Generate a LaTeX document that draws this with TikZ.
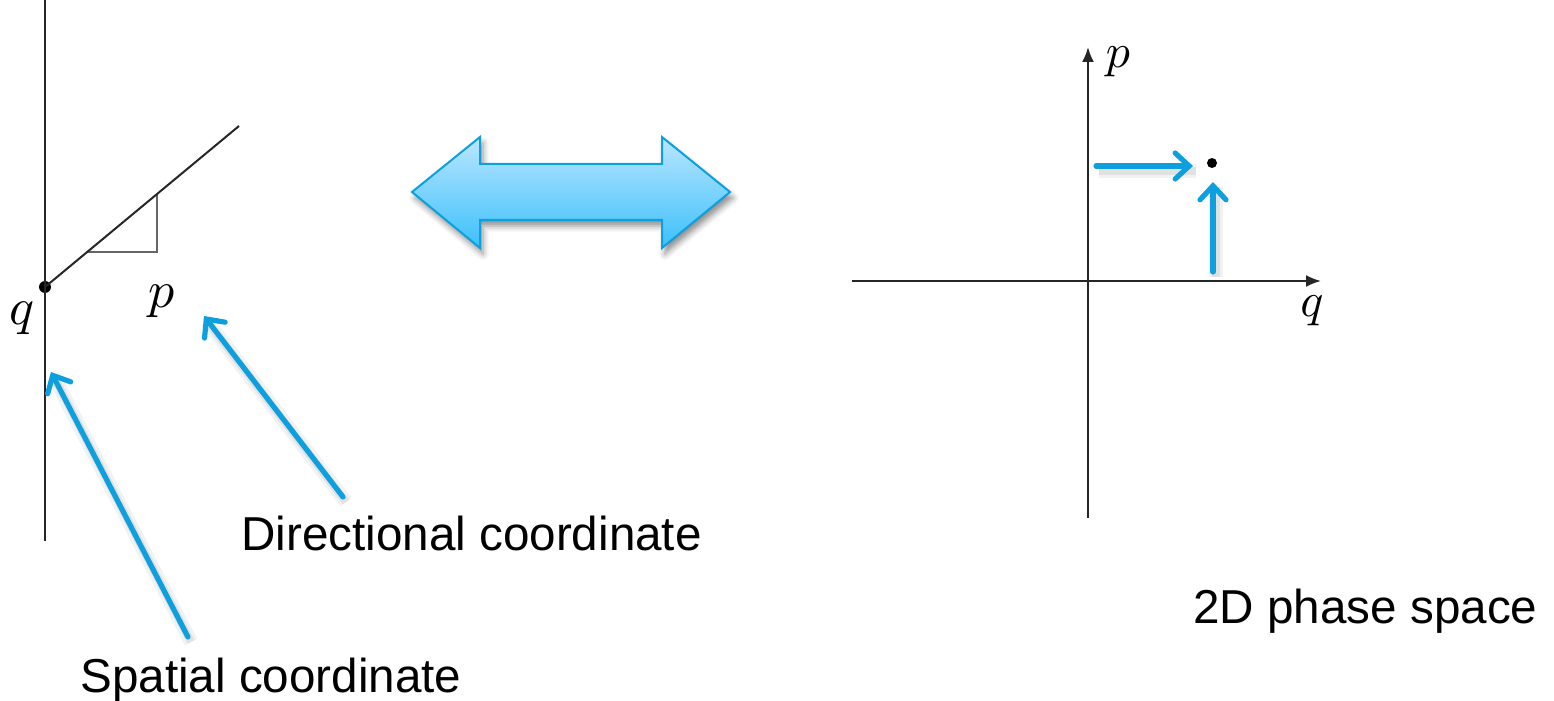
\documentclass[tikz,border=0pt]{standalone}
\usepackage{fontspec}
\setmainfont{Liberation Sans}
\usetikzlibrary{arrows.meta,shadows.blur}
\definecolor{cblue}{RGB}{14,160,222}
\definecolor{atop}{RGB}{186,230,255}
\definecolor{abot}{RGB}{60,192,250}
\definecolor{aedge}{RGB}{12,160,222}
\tikzset{
  axisline/.style={black!85, line width=1pt},
  axisarrow/.style={axisline, -{Latex[length=7.5pt,width=6pt]}},
  tri/.style={black!60, line width=1.3pt},
  dotnode/.style={circle, fill=black, inner sep=0pt, minimum size=#1},
  bluearrow/.style={draw=cblue, line width=2.6pt, line cap=round,
    -{Straight Barb[length=7pt,width=13pt,line cap=round]},
    preaction={draw=black, draw opacity=0.05, line width=7pt, -,
      transform canvas={shift={(1.5pt,-2.5pt)}}},
    preaction={draw=black, draw opacity=0.07, line width=4pt, -,
      transform canvas={shift={(1.5pt,-2.5pt)}}}},
  lbl/.style={font=\fontsize{23.8}{28}\selectfont, inner sep=0pt},
  mlbl/.style={inner sep=0pt, scale=#1},
}
\begin{document}
\begin{tikzpicture}[x=0.5pt,y=-0.5pt]
\useasboundingbox (0,0) rectangle (1554,701);
% ---------- left figure ----------
\coordinate (vtop) at (45,0);
\coordinate (vbot) at (45,541);
\node[dotnode=6pt] (qpt) at (45,287) {};
\coordinate (dend) at (239,126);
\coordinate (t1) at (87,252);
\coordinate (t2) at (157,252);
\coordinate (t3) at (157,194);
\draw[axisline] (vtop) -- (vbot);
\draw[tri] (t1) -- (t2) -- (t3);
\draw[axisline] (qpt.center) -- (dend);
\node[mlbl=2.6] (qlab) at (22,318) {$q$};
\node[mlbl=2.6] (plab) at (162,301) {$p$};
% labels and blue pointers
\node[lbl, anchor=base west] (dirtxt) at (241,550) {Directional coordinate};
\node[lbl, anchor=base west] (spatxt) at (80,692) {Spatial coordinate};
\coordinate (dA) at (343,497);
\coordinate (dB) at (204,316);
\coordinate (sA) at (188,637);
\coordinate (sB) at (51,372);
\draw[bluearrow] (dA) -- (dB);
\draw[bluearrow] (sA) -- (sB);
% ---------- double arrow ----------
\path[draw=aedge, line width=1pt, line join=miter, top color=atop, bottom color=abot,
  blur shadow={shadow xshift=1.5pt, shadow yshift=-3pt, shadow blur radius=3pt, shadow opacity=45}]
  (412,192) -- (480,137) -- (480,164) -- (662,164) -- (662,137) -- (730,192)
  -- (662,248) -- (662,220) -- (480,220) -- (480,248) -- cycle;
% ---------- right figure ----------
\coordinate (yb) at (1088,518);
\coordinate (yt) at (1088,47);
\coordinate (xl) at (852,281);
\coordinate (xr) at (1321,281);
\draw[axisarrow] (yb) -- (yt);
\draw[axisarrow] (xl) -- (xr);
\node[mlbl=2.4] (plab2) at (1118,62) {$p$};
\node[mlbl=2.4] (qlab2) at (1312,311) {$q$};
\node[dotnode=5pt] (pt) at (1212,163) {};
\coordinate (hA) at (1096,166);
\coordinate (hB) at (1193,166);
\coordinate (vA) at (1213,272);
\coordinate (vB) at (1213,182);
\draw[bluearrow] (hA) -- (hB);
\draw[bluearrow] (vA) -- (vB);
\node[lbl, anchor=base west] (phtxt) at (1193,623) {2D phase space};
\end{tikzpicture}
\end{document}
